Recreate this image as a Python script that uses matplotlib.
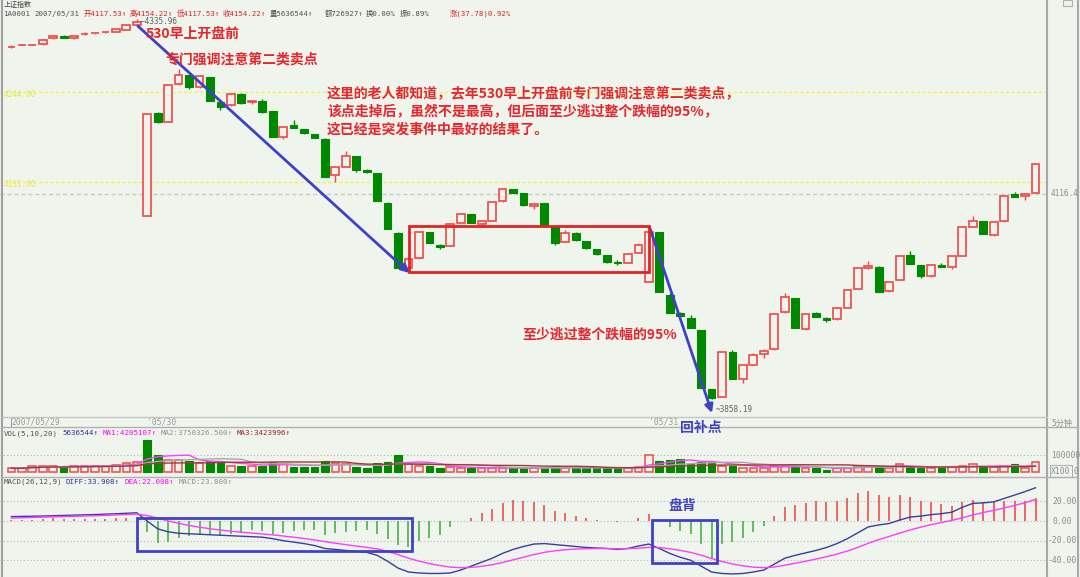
import numpy as np
import pandas as pd
import matplotlib
matplotlib.use("Agg")
import matplotlib.pyplot as plt

# 上证指数 5分钟K线, 2007/05/29 尾盘 - 05/31
opens = [4301.2, 4303.6, 4303.6, 4304.7, 4312.0, 4315.0, 4312.0, 4317.4, 4318.4, 4319.6, 4319.8, 4322.8, 4329.0,
         4088.2, 4217.6, 4207.0, 4254.5, 4265.8, 4250.3, 4262.9, 4231.8, 4227.6, 4241.9, 4231.4, 4232.7,
         4220.1, 4187.3, 4202.4, 4197.4, 4191.1, 4185.6, 4139.8, 4150.3, 4163.8, 4146.1, 4142.0, 4105.0,
         4067.2, 4022.3, 4034.9, 4068.1, 4051.7, 4050.8, 4079.0, 4090.7, 4078.1, 4082.3, 4106.7, 4121.8,
         4116.8, 4101.2, 4104.2, 4074.7, 4055.8, 4067.2, 4056.7, 4046.3, 4038.7, 4030.7, 4029.0, 4042.0,
         4004.7, 4067.7, 3988.7, 3965.7, 3959.4, 3944.6, 3870.0, 3860.6, 3916.6, 3882.9, 3900.6, 3914.0,
         3920.3, 3966.9, 3984.6, 3945.5, 3965.7, 3960.1, 3958.1, 3972.4, 3995.9, 4022.3, 4024.4, 3993.4,
         4008.0, 4038.7, 4026.1, 4012.3, 4026.9, 4024.4, 4037.8, 4074.0, 4081.9, 4064.3, 4081.5, 4115.5,
         4113.0, 4117.53]
highs = [4303.5, 4304.5, 4304.5, 4310.6, 4315.9, 4315.6, 4315.5, 4319.5, 4319.2, 4320.3, 4323.6, 4329.3, 4335.96,
         4216.3, 4219.6, 4253.2, 4273.0, 4266.0, 4264.5, 4263.0, 4232.0, 4243.1, 4243.5, 4233.6, 4235.2,
         4220.5, 4200.7, 4208.7, 4197.8, 4191.5, 4186.0, 4149.5, 4170.5, 4164.0, 4147.8, 4142.5, 4105.5,
         4067.5, 4033.7, 4067.7, 4068.5, 4053.0, 4077.8, 4091.6, 4091.0, 4081.5, 4106.2, 4121.8, 4122.6,
         4117.0, 4103.7, 4104.5, 4075.0, 4070.6, 4067.5, 4057.0, 4046.5, 4039.0, 4032.8, 4040.4, 4053.8,
         4067.7, 4068.0, 3990.9, 3967.0, 3963.2, 3945.0, 3870.5, 3917.3, 3919.5, 3900.6, 3915.3, 3921.1,
         3964.4, 3990.9, 3985.0, 3964.8, 3967.7, 3960.5, 3972.0, 3994.6, 4022.3, 4031.5, 4024.7, 4006.7,
         4039.0, 4044.1, 4026.3, 4026.1, 4028.6, 4037.5, 4074.0, 4088.2, 4082.2, 4081.1, 4113.0, 4118.1,
         4116.8, 4154.22]
lows = [4299.5, 4303.0, 4303.0, 4304.2, 4311.6, 4312.0, 4311.8, 4316.0, 4318.0, 4319.2, 4319.5, 4322.5, 4328.8,
        4088.2, 4205.7, 4206.5, 4253.5, 4247.8, 4250.0, 4233.4, 4221.7, 4227.0, 4229.0, 4229.6, 4218.5,
        4187.3, 4184.8, 4198.5, 4191.5, 4186.5, 4137.7, 4131.4, 4150.0, 4144.0, 4142.8, 4107.5, 4071.5,
        4022.3, 4019.0, 4034.5, 4054.6, 4046.3, 4050.5, 4078.8, 4079.8, 4076.9, 4082.0, 4106.5, 4116.8,
        4100.8, 4097.4, 4076.9, 4051.7, 4055.5, 4056.7, 4046.3, 4039.0, 4029.4, 4026.5, 4028.8, 4041.8,
        4004.5, 3992.5, 3965.7, 3961.0, 3946.8, 3872.0, 3858.19, 3860.0, 3882.9, 3878.3, 3900.3, 3909.0,
        3920.0, 3966.5, 3946.8, 3945.2, 3961.4, 3954.3, 3957.8, 3972.2, 3995.7, 4022.0, 3992.1, 3992.0,
        4007.8, 4027.4, 4010.1, 4012.0, 4024.4, 4021.8, 4037.5, 4073.8, 4065.2, 4063.4, 4081.3, 4112.1,
        4108.0, 4117.53]
closes = [4301.6, 4303.9, 4303.9, 4310.2, 4315.5, 4312.5, 4315.0, 4317.8, 4318.7, 4319.9, 4323.3, 4329.0, 4332.0,
          4216.3, 4207.0, 4253.2, 4265.8, 4251.1, 4264.5, 4233.4, 4225.9, 4241.9, 4230.1, 4233.4, 4219.2,
          4187.3, 4200.7, 4199.0, 4192.4, 4186.8, 4137.7, 4149.5, 4163.8, 4146.1, 4143.2, 4107.5, 4071.5,
          4022.3, 4033.7, 4067.7, 4054.6, 4049.5, 4077.8, 4090.4, 4079.8, 4081.5, 4106.2, 4121.8, 4116.8,
          4102.4, 4103.7, 4076.9, 4054.6, 4067.2, 4058.0, 4048.3, 4040.4, 4030.7, 4029.0, 4040.4, 4051.7,
          4067.7, 3992.5, 3965.7, 3962.7, 3946.8, 3872.0, 3859.4, 3917.3, 3882.9, 3900.6, 3913.2, 3918.2,
          3964.4, 3986.6, 3946.8, 3964.8, 3961.4, 3957.2, 3972.0, 3994.6, 4022.3, 4025.2, 3992.1, 4004.7,
          4038.2, 4027.4, 4012.6, 4026.1, 4024.4, 4037.5, 4074.0, 4081.5, 4065.2, 4081.1, 4113.0, 4112.1,
          4116.44, 4154.22]
# 成交量 (x100)
volumes = [20800, 20800, 33300, 33300, 33300, 31300, 33300, 33300, 37500, 37500, 41700, 54200, 58300,
           193800, 104200, 68800, 68800, 64600, 52100, 64600, 58300, 37500, 37500, 33300, 37500,
           58300, 43800, 31300, 27100, 31300, 62500, 52100, 43800, 31300, 20800, 52100, 58300,
           100000, 47900, 37500, 37500, 22900, 27100, 22900, 22900, 22900, 20800, 22900, 20800,
           20800, 25000, 20800, 33300, 25000, 20800, 20800, 25000, 27100, 20800, 25000, 29200,
           100000, 64600, 68800, 75000, 47900, 58300, 58300, 37500, 33300, 25000, 25000, 25000,
           33300, 37500, 31300, 20800, 20800, 12500, 25000, 25000, 33300, 37500, 37500, 25000,
           43800, 31300, 22900, 25000, 22900, 31300, 37500, 43800, 31300, 27100, 37500, 43800,
           25000, 56365]
diff = [4.5, 4.7, 4.9, 5.1, 5.4, 5.7, 6.0, 6.3, 6.6, 7.0, 7.4, 7.9, 8.4,
        0.0, -8.0, -11.0, -12.5, -13.0, -13.5, -14.0, -14.5, -15.0, -15.5, -16.0, -16.5,
        -18.0, -20.0, -21.5, -23.0, -25.0, -28.0, -29.0, -30.0, -31.0, -32.0, -35.0, -41.0,
        -48.0, -52.0, -53.0, -53.5, -53.5, -53.0, -50.0, -46.0, -42.0, -38.0, -33.0, -29.0,
        -26.0, -23.5, -23.0, -24.0, -25.0, -26.0, -27.0, -27.5, -28.0, -29.0, -28.0, -25.5,
        -23.5, -28.0, -33.0, -37.0, -40.0, -46.0, -52.0, -53.5, -54.0, -53.5, -52.0, -50.0,
        -44.0, -38.0, -35.0, -32.5, -30.0, -27.0, -23.0, -18.0, -12.0, -6.0, -4.0, -2.5,
        1.0, 4.0, 5.0, 6.5, 7.5, 9.0, 14.0, 18.0, 18.5, 19.5, 23.0, 26.5,
        30.0, 33.908]
dea = [3.0, 3.3, 3.6, 3.9, 4.2, 4.5, 4.8, 5.1, 5.4, 5.8, 6.2, 6.6, 7.0,
       5.6, 2.9, 0.1, -2.4, -4.5, -6.3, -7.9, -9.2, -10.4, -11.4, -12.3, -13.2,
       -14.1, -15.3, -16.5, -17.8, -19.3, -21.0, -22.6, -24.1, -25.5, -26.8, -28.4, -30.9,
       -34.3, -37.9, -40.9, -43.4, -45.4, -47.0, -47.6, -47.3, -46.2, -44.6, -42.3, -39.6,
       -36.9, -34.2, -32.0, -30.4, -29.3, -28.6, -28.3, -28.1, -28.1, -28.3, -28.2, -27.7,
       -26.9, -27.1, -28.3, -30.0, -32.0, -34.8, -38.2, -41.3, -43.8, -45.7, -47.0, -47.6,
       -46.9, -45.1, -43.1, -41.0, -38.8, -36.4, -33.7, -30.6, -26.9, -22.7, -19.0, -15.7,
       -12.4, -9.1, -6.3, -3.7, -1.5, 0.6, 3.3, 6.2, 8.7, 10.8, 13.3, 15.9,
       18.7, 22.008]
macd = [1.5, 1.5, 1.5, 2.0, 2.8, 2.0, 2.0, 2.0, 2.0, 2.0, 2.8, 2.8, 2.0,
        -11.3, -22.5, -21.0, -17.6, -14.8, -14.0, -14.0, -14.0, -13.0, -12.0, -9.5, -10.2,
        -13.0, -12.3, -10.0, -9.5, -9.5, -14.0, -12.3, -11.3, -10.6, -9.5, -13.0, -18.3,
        -24.6, -27.0, -20.0, -17.2, -14.0, -6.0, 0.0, 3.5, 8.0, 12.7, 18.6, 21.0,
        20.4, 19.7, 16.2, 9.9, 8.0, 5.6, 2.8, 1.0, 0.0, -1.4, 0.0, 2.8,
        7.0, 0.0, -6.0, -10.6, -13.7, -23.6, -38.7, -23.6, -21.8, -17.2, -11.3, -5.3,
        5.3, 14.4, 16.2, 18.6, 20.4, 19.4, 20.4, 23.9, 28.1, 30.3, 26.7, 24.6,
        26.4, 24.6, 20.4, 19.4, 16.9, 15.8, 19.4, 21.0, 19.4, 19.7, 20.4, 20.4,
        20.4, 23.8]
date_labels = ['2007/05/29', "'05/30", "'05/31"]
date_pos = [0, 13, 61]
prev_close = 4116.44
hi_mark, lo_mark = 4335.96, 3858.19

W, H = 1080, 577
BG = '#EFF5EC'
RED = '#F04848'
GREEN = '#008800'
TXT_RED = '#E8242C'
BLUE = '#4040C8'
GREY = '#8C8C8C'
MONO = ['DejaVu Sans Mono', 'Noto Sans CJK SC']
CJK = ['Noto Sans CJK SC', 'DejaVu Sans']

fig = plt.figure(figsize=(W / 100, H / 100), dpi=100, facecolor=BG)


def rect(x0, y0, x1, y1):
    return [x0 / W, 1 - y1 / H, (x1 - x0) / W, (y1 - y0) / H]


X0, DX = 11.4, 10.45
xlim = (-X0 / DX, (1047 - X0) / DX)

ax = fig.add_axes(rect(0, 15, 1047, 415))
axv = fig.add_axes(rect(0, 427, 1047, 477))
axm = fig.add_axes(rect(0, 477, 1047, 577))
for a in (ax, axv, axm):
    a.set_facecolor('none')
    a.set_xlim(*xlim)
    a.axis('off')
ax.set_ylim(3837.6, 4341.4)
axv.set_ylim(-32100, 270900)
axm.set_ylim(-57.1, 44.9)

x = np.arange(len(closes))
o, h, l, c = (np.array(v, dtype=float) for v in (opens, highs, lows, closes))
up = c >= o
lo_b, hi_b = np.minimum(o, c), np.maximum(o, c)
hgt = np.maximum(hi_b - lo_b, 0.4)

# 参考线
ax.axhline(4244, color='#F2F23A', lw=1, ls=(0, (2, 2)), zorder=1)
ax.axhline(4131, color='#F2F23A', lw=1, ls=(0, (2, 2)), zorder=1)
ax.axhline(prev_close, color='#C8C8C8', lw=1, ls=(0, (3, 2)), zorder=1)
yt = ax.get_yaxis_transform()
for v in (4244, 4131):
    ax.text(0.003, v - 3, f'{v:.2f}', transform=yt, color='#E6E650', fontsize=5.6,
            family=MONO, va='center', ha='left')
ax.text(1.003, prev_close, f'{prev_close:.1f}', transform=yt, color=GREY, fontsize=5.6,
        family=MONO, va='center', ha='left', clip_on=False)

# K线
ax.vlines(x[up], hi_b[up], h[up], color=RED, lw=1, zorder=2)
ax.vlines(x[up], l[up], lo_b[up], color=RED, lw=1, zorder=2)
ax.vlines(x[~up], l[~up], h[~up], color=GREEN, lw=1, zorder=2)
ax.bar(x[up], hgt[up], bottom=lo_b[up], width=0.74, facecolor=BG, edgecolor=RED, lw=1.2, zorder=3)
ax.bar(x[~up], hgt[~up], bottom=lo_b[~up], width=0.74, facecolor=GREEN, edgecolor=GREEN, lw=0.8, zorder=3)

i_hi = int(np.argmax(h))
i_lo = int(np.argmin(l))
ax.annotate(f'—{hi_mark:.2f}', xy=(i_hi + 0.3, hi_mark), xytext=(0, -1.8), textcoords='offset points',
            color='#606060', fontsize=5.6, family=MONO, va='center', ha='left', annotation_clip=False)
ax.annotate(f'~{lo_mark:.2f}', xy=(i_lo + 0.4, lo_mark), xytext=(0, -8), textcoords='offset points',
            color='#606060', fontsize=5.6, family=MONO, va='center', ha='left', annotation_clip=False)

# 日期
xt = ax.get_xaxis_transform()
for p, s in zip(date_pos, date_labels):
    ax.text(p, -0.0185, s, transform=xt, color='#9A9A9A', fontsize=5.8, family=MONO,
            va='center', ha='left', clip_on=False)
ax.vlines(date_pos[0] - 0.05, -0.03, -0.005, transform=xt, color='#A0A0A0', lw=0.8, clip_on=False)

# 成交量
vol = np.array(volumes, dtype=float)
vup = np.r_[up[0], c[1:] >= c[:-1]]
axv.axhline(100000, color='#B4B4B4', lw=0.8, ls=(0, (1, 2)))
axv.bar(x[vup], vol[vup], width=0.73, facecolor=BG, edgecolor=RED, lw=1.1, zorder=2)
axv.bar(x[~vup], vol[~vup], width=0.73, facecolor=GREEN, edgecolor=GREEN, lw=0.8, zorder=2)
vs = pd.Series(vol)
axv.plot(x, vs.rolling(5, min_periods=1).mean(), color='#FF40FF', lw=1, zorder=3)
axv.plot(x, vs.rolling(10, min_periods=1).mean(), color='#A8A8A8', lw=1, zorder=3)
axv.plot(x, vs.rolling(20, min_periods=1).mean(), color='#A03A3A', lw=1, zorder=3)

# MACD
for v in (20, 0, -20, -40):
    axm.axhline(v, color='#B8B8B8', lw=0.8, ls=(0, (1, 2)))
hist = np.array(macd)
axm.vlines(x[hist > 0], 0, hist[hist > 0], color='#EE4040', lw=1.1)
axm.vlines(x[hist < 0], 0, hist[hist < 0], color='#3DAA3D', lw=1.1)
axm.plot(x, diff, color='#3C3CA0', lw=1)
axm.plot(x, dea, color='#FF3CFF', lw=1)

# 标注
ax.annotate('', xy=(38.1, 4016.4), xytext=(12.1, 4327.5), annotation_clip=False,
            arrowprops=dict(arrowstyle='-|>', color=BLUE, lw=2, mutation_scale=12, shrinkA=0, shrinkB=0))
ax.annotate('', xy=(67.04, 3840.1), xytext=(61.06, 4074.4), annotation_clip=False,
            arrowprops=dict(arrowstyle='-|>', color=BLUE, lw=2, mutation_scale=12, shrinkA=0, shrinkB=0))
ax.add_patch(plt.Rectangle((38.08, 4018.1), 60.99 - 38.08, 4076.0 - 4018.1, fill=False,
                           edgecolor='#E82020', lw=2, zorder=5))
axm.add_patch(plt.Rectangle((12.04, -30.6), 38.37 - 12.04, 2.76 + 30.6, fill=False,
                            edgecolor=BLUE, lw=2, zorder=5))
axm.add_patch(plt.Rectangle((61.3, -43.0), 67.48 - 61.3, 1.0 + 43.0, fill=False,
                            edgecolor=BLUE, lw=2, zorder=5))

kw = dict(color=TXT_RED, fontsize=10, family=CJK, weight='bold', va='center', ha='left')
ax.text(12.83, 4317.4, '530早上开盘前', **kw)
ax.text(14.7, 4284.7, '专门强调注意第二类卖点', **kw)
ax.text(30.2, 4243.1, '这里的老人都知道，去年530早上开盘前专门强调注意第二类卖点，', **kw)
ax.text(30.2, 4219.2, '该点走掉后，虽然不是最高，但后面至少逃过整个跌幅的95%，', **kw)
ax.text(30.2, 4196.5, '这已经是突发事件中最好的结果了。', **kw)
ax.text(48.86, 3938.6, '至少逃过整个跌幅的95%', **kw)
axm.text(62.9, 15.3, '盘背', color=BLUE, fontsize=10, family=CJK, weight='bold', va='center', ha='left')

# 覆盖层: 标题栏、分隔线、右侧刻度
ov = fig.add_axes([0, 0, 1, 1])
ov.set_xlim(0, W)
ov.set_ylim(H, 0)
ov.axis('off')
ov.set_facecolor('none')
ov.text(680, 428, '回补点', color=BLUE, fontsize=10, family=CJK, weight='bold', va='center', ha='left')

ov.plot([2, 2], [0, H], color='#A0A0A0', lw=1.5)
ov.plot([1047, 1047], [0, H], color='#A8A8A8', lw=1.5)
ov.plot([1078, 1078], [0, H], color='#A8A8A8', lw=1.5)
ov.plot([2, 1047], [416.5, 416.5], color='#C4C4C4', lw=1)
ov.plot([2, 1078], [427, 427], color='#B0B0B0', lw=1)
ov.plot([2, 1078], [476.5, 476.5], color='#B0B0B0', lw=1)
ov.add_patch(plt.Rectangle((1063, 0), 9, 6, fill=False, edgecolor='#B0B0B0', lw=0.8))

ov.text(3.4, 5.0, '上证指数', color='#404040', fontsize=5, family=CJK, va='center', ha='left')
head = [(3.4, '1A0001', '#505050'), (34.5, '2007/05/31', '#505050'),
        (83.4, '开4117.53↑', '#E02020'), (129.3, '高4154.22↑', '#E02020'),
        (177, '低4117.53↑', '#E02020'), (222.4, '收4154.22↑', '#E02020'),
        (270, '量5636544↑', '#505050'), (325, '额726927↑', '#505050'),
        (365.5, '换0.00%', '#505050'), (400, '振0.89%', '#505050'),
        (450, '涨(37.78)0.92%', '#E02020')]
for px, s, col in head:
    ov.text(px, 13.6, s, color=col, fontsize=5.3, family=MONO, va='center', ha='left')

vhead = [(3.4, 'VOL(5,10,20)', '#505050'), (62, '5636544↑', '#3030A0'),
         (102.4, 'MA1:4205107↑', '#FF00FF'), (160.7, 'MA2:3750326.500↑', '#909090'),
         (236.6, 'MA3:3423996↑', '#A02020')]
for px, s, col in vhead:
    ov.text(px, 433.4, s, color=col, fontsize=5.4, family=MONO, va='center', ha='left')

mhead = [(3.4, 'MACD(26,12,9)', '#505050'), (65.5, 'DIFF:33.908↑', '#3030A0'),
         (124.8, 'DEA:22.008↑', '#FF00FF'), (178.6, 'MACD:23.800↑', '#909090')]
for px, s, col in mhead:
    ov.text(px, 482, s, color=col, fontsize=5.4, family=MONO, va='center', ha='left')

rt = dict(color=GREY, fontsize=5.8, family=MONO, va='center', ha='left')
ov.text(1051, 423, '5分钟', **rt)
ov.text(1051, 455, '100000', **rt)
ov.text(1051, 471, 'X100', bbox=dict(boxstyle='square,pad=0.15', fc='none', ec='#B0B0B0', lw=0.8), **rt)
ov.text(1074, 471, '0', **rt)

mt = axm.get_yaxis_transform()
for v in (20, 0, -20, -40):
    axm.text(1.005 if v >= 0 else 1.001, v, f'{v:.2f}', transform=mt, clip_on=False, **rt)

fig.savefig('out.png', dpi=100, facecolor=BG)
